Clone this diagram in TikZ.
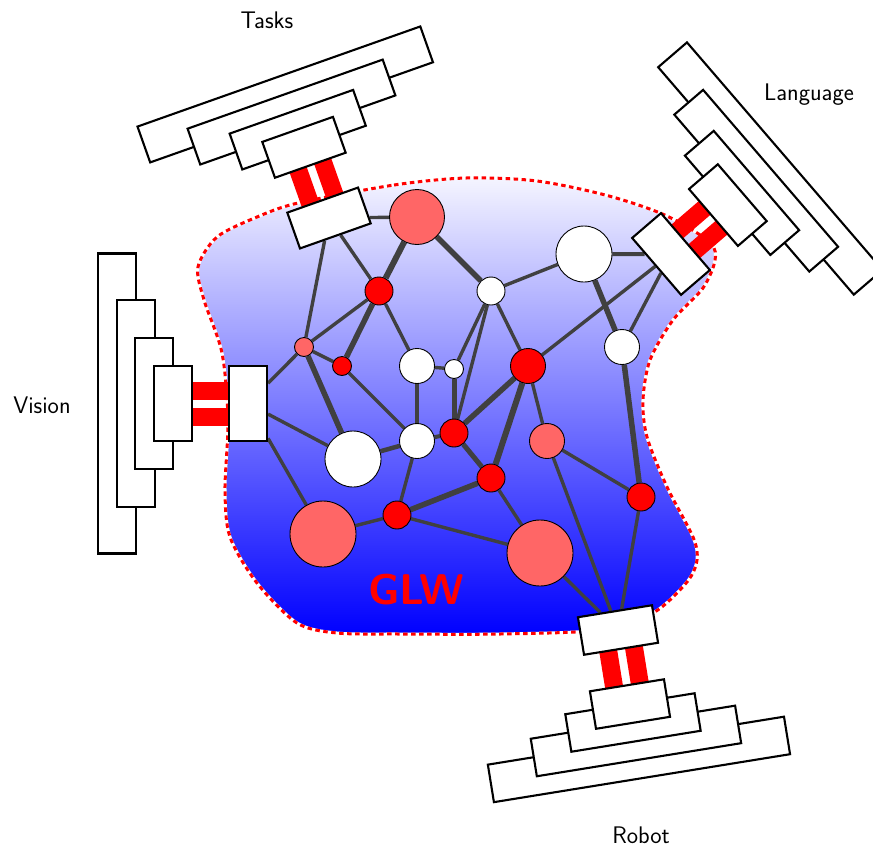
\documentclass[tikz,border=0pt]{standalone}
\usepackage{fontspec}
\usetikzlibrary{calc}
\pgfdeclarelayer{back}
\pgfdeclarelayer{links}
\pgfsetlayers{back,links,main}

\definecolor{linkgray}{RGB}{64,64,64}
\definecolor{softred}{RGB}{255,102,102}

\tikzset{
  unit/.style={draw,circle,inner sep=0pt,line width=0.9pt},
  redu/.style={unit,fill=red},
  pinku/.style={unit,fill=softred},
  whiteu/.style={unit,fill=white},
  link/.style={draw=linkgray,line width=3.4pt},
  heavy/.style={draw=linkgray,line width=5.5pt},
  port/.style={draw,fill=white,line width=2.1pt,minimum width=38pt,minimum height=75pt,inner sep=0pt},
  layerbox/.style={draw,fill=white,line width=2.1pt},
  wire/.style={fill=red},
  caption/.style={font=\sffamily\fontsize{24}{28}\selectfont},
}

% stacked modality blocks plus the two red wires, in a frame whose +x points outward
\newcommand{\modstack}[3]{%
  \begin{scope}[shift={(#1,#2)},rotate=#3]
    \fill[wire] (17,4) rectangle (58,22);
    \fill[wire] (17,-22) rectangle (58,-4);
    \foreach \kk/\hh in {3/150,2/103.5,1/65.5,0/37.5}{
      \draw[layerbox] ({56+18.7*\kk},-\hh) rectangle ({94+18.7*\kk},\hh);
    }
  \end{scope}}

\begin{document}
\begin{tikzpicture}[x=1pt,y=-1pt]
\useasboundingbox (0,0) rectangle (873,847);

% workspace region
\begin{pgfonlayer}{back}
\path[top color=blue!4!white,bottom color=blue,
      postaction={draw=white,line width=3pt},
      postaction={draw=red,line width=3pt,dash pattern=on 4.5pt off 3.5pt}]
  plot[smooth cycle] coordinates {
   (298,203) (394,185) (466,178) (537,181) (609,196) (669,217) (714,248)
   (705,285) (673,320) (650,360) (643,400) (647,437) (667,487) (693,537)
   (697,560) (687,582) (653,613) (600,630) (500,634) (400,634) (337,633)
   (297,623) (257,583) (230,537) (225,490) (228,420) (222,353) (204,300)
   (198,267) (217,237) (257,217)};
\end{pgfonlayer}

% processing units
\node[pinku,minimum size=55pt] (p1) at (417,217) {};
\node[redu,minimum size=28pt] (r1) at (379,291) {};
\node[whiteu,minimum size=28pt] (w1) at (491,291) {};
\node[pinku,minimum size=19pt] (p2) at (304,347) {};
\node[redu,minimum size=19pt] (r2) at (342,366) {};
\node[whiteu,minimum size=35pt] (w2) at (417,366) {};
\node[whiteu,minimum size=19pt] (w3) at (454,369) {};
\node[redu,minimum size=35pt] (r3) at (528,366) {};
\node[whiteu,minimum size=56pt] (w4) at (584,254) {};
\node[whiteu,minimum size=35pt] (w5) at (622,347) {};
\node[whiteu,minimum size=56pt] (w6) at (353,459) {};
\node[whiteu,minimum size=35pt] (w7) at (417,441) {};
\node[redu,minimum size=28pt] (r4) at (454,433) {};
\node[pinku,minimum size=35pt] (p3) at (547,441) {};
\node[redu,minimum size=28pt] (r5) at (491,478) {};
\node[pinku,minimum size=66pt] (p4) at (323,534) {};
\node[redu,minimum size=28pt] (r6) at (397,515) {};
\node[pinku,minimum size=66pt] (p5) at (540,553) {};
\node[redu,minimum size=28pt] (r7) at (641,497) {};

% specialist modules
\modstack{248}{403.5}{180}
\modstack{329}{218}{109.5}
\modstack{671}{254}{40.7}
\modstack{618}{630}{-80.8}

\node[port,rotate=180] (V) at (248,403.5) {};
\node[port,rotate=109.5] (T) at (329,218) {};
\node[port,rotate=40.7] (La) at (671,254) {};
\node[port,rotate=-80.8] (Ro) at (618,630) {};

% connections
\begin{pgfonlayer}{links}
\draw[link] (T) -- (p1);
\draw[link] (T) -- (p2);
\draw[link] (T) -- (r1);
\draw[heavy,line width=6pt] (p1) -- (r1);
\draw[heavy] (p1) -- (w1);
\draw[link] (w1) -- (w4);
\draw[link] (w1) -- (w3);
\draw[link] (w1) -- (r4);
\draw[link] (w1) -- (r3);
\draw[link] (r1) -- (p2);
\draw[heavy] (r1) -- (r2);
\draw[link] (r1) -- (w2);
\draw[link] (p2) -- (r2);
\draw[link] (V) -- (p2);
\draw[heavy] (p2) -- (w6);
\draw[link] (r2) -- (w7);
\draw[link] (w2) -- (w3);
\draw[link] (w2) -- (w7);
\draw[heavy,line width=5pt] (w3) -- (r4);
\draw[link,line width=4pt] (r4) -- (w7);
\draw[heavy,line width=4.5pt] (w6) -- (w7);
\draw[heavy] (r4) -- (r3);
\draw[heavy,line width=5pt] (r4) -- (r5);
\draw[heavy,line width=6pt] (r3) -- (r5);
\draw[link] (r3) -- (p3);
\draw[link] (r3) -- (La);
\draw[link] (p3) -- (r7);
\draw[link] (p3) -- (Ro);
\draw[heavy] (r5) -- (r6);
\draw[link] (r5) -- (p5);
\draw[link] (r6) -- (w7);
\draw[link] (r6) -- (p4);
\draw[link] (r6) -- (p5);
\draw[link] (V) -- (w6);
\draw[link] (V) -- (p4);
\draw[link] (p5) -- (Ro);
\draw[link] (r7) -- (Ro);
\draw[heavy] (w5) -- (r7);
\draw[heavy] (w4) -- (w5);
\draw[link,line width=4pt] (w4) -- (La);
\draw[link] (w5) -- (La);
\end{pgfonlayer}

% labels
\node[caption] (tasklbl) at (267,20) {Tasks};
\node[caption] (langlbl) at (809,95) {Language};
\node[caption] (vislbl) at (42,405) {Vision};
\node[caption] (robotlbl) at (641,835) {Robot};
\node[text=red,font=\sffamily\bfseries\fontsize{43}{50}\selectfont] (glw) at (416,590) {GLW};
\end{tikzpicture}
\end{document}
